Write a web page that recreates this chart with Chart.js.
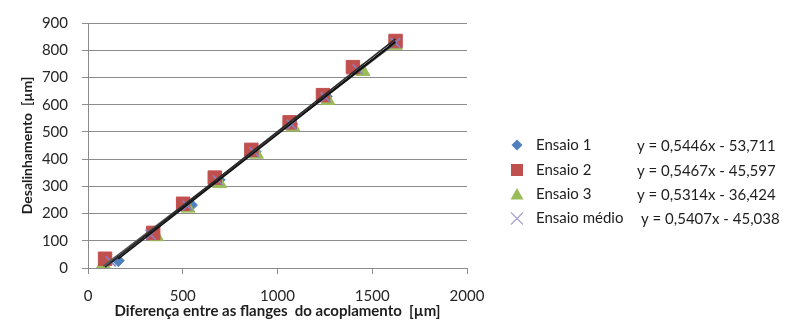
<!DOCTYPE html>
<html>
<head>
<meta charset="utf-8">
<script src="https://cdn.jsdelivr.net/npm/chart.js@4/dist/chart.umd.min.js"></script>
<style>
  html, body { margin: 0; padding: 0; background: #ffffff; }
  #c { display: block; }
</style>
</head>
<body>
<canvas id="c" width="795" height="326"></canvas>
<script>
// Measured points: flange difference (x) vs. misalignment (y), in µm
const seriesNames = ['Ensaio 1', 'Ensaio 2', 'Ensaio 3', 'Ensaio médio'];

const ensaio1X = [160, 340, 546, 692, 882, 1076, 1257, 1420, 1620];
const ensaio1Y = [27, 126, 231, 324, 427, 528, 630, 730, 829];

const ensaio2X = [90, 344, 502, 669, 862, 1064, 1240, 1398, 1623];
const ensaio2Y = [34, 129, 236, 332, 434, 535, 635, 738, 834];

const ensaio3X = [81, 362, 528, 695, 889, 1082, 1266, 1451, 1623];
const ensaio3Y = [14, 115, 220, 310, 418, 518, 615, 722, 818];

const medioX = [120, 330, 525, 685, 877, 1074, 1254, 1423, 1622];
const medioY = [24, 123, 229, 322, 426, 527, 627, 730, 827];

// Linear trendline coefficients (y = a·x + b) for each test
const slopes = [0.5446, 0.5467, 0.5314, 0.5407];
const intercepts = [-53.711, -45.597, -36.424, -45.038];

const xTicks = [0, 500, 1000, 1500, 2000];
const yTicks = [0, 100, 200, 300, 400, 500, 600, 700, 800, 900];

const xTitle = 'Diferença entre as flanges  do acoplamento  [µm]';
const yTitle = 'Desalinhamento  [µm]';

const colors = ['#4F81BD', '#C0504D', '#9BBB59', '#8B80C4'];
const styles = ['rectRot', 'rect', 'triangle', 'crossRot'];
const radii = [6, 9.5, 8, 7];

const xs = [ensaio1X, ensaio2X, ensaio3X, medioX];
const ys = [ensaio1Y, ensaio2Y, ensaio3Y, medioY];

const pts = (xa, ya) => xa.map((x, i) => ({ x: x, y: ya[i] }));

function eqText(i) {
  const a = slopes[i].toFixed(4).replace('.', ',');
  const b = Math.abs(intercepts[i]).toFixed(3).replace('.', ',');
  return 'y = ' + a + 'x ' + (intercepts[i] < 0 ? '- ' : '+ ') + b;
}

// stacking: trendlines on top, then médio, Ensaio 2, Ensaio 3, Ensaio 1
const drawOrder = [5, 3, 4, 2];

const datasets = seriesNames.map((name, i) => ({
  label: name,
  data: pts(xs[i], ys[i]),
  pointStyle: styles[i],
  pointRadius: radii[i],
  pointHoverRadius: radii[i],
  backgroundColor: colors[i],
  borderColor: colors[i],
  pointBorderWidth: i === 3 ? 1.6 : 1,
  showLine: false,
  order: drawOrder[i]
}));

// trendlines over each test's x range
seriesNames.forEach((name, i) => {
  const x0 = Math.min(...xs[i]);
  const x1 = Math.max(...xs[i]);
  datasets.push({
    label: 'tendência ' + name,
    type: 'line',
    data: [
      { x: x0, y: slopes[i] * x0 + intercepts[i] },
      { x: x1, y: slopes[i] * x1 + intercepts[i] }
    ],
    borderColor: ['#111111', '#2a2a2a', '#555555', '#000000'][i],
    borderWidth: 1.6,
    pointRadius: 0,
    fill: false,
    order: 0
  });
});

// legend with trendline equations at the right of the plot
const sideLegend = {
  id: 'sideLegend',
  afterDraw(chart) {
    const ctx = chart.ctx;
    const markX = 517;
    const labelX = 536;
    const eqX = [637, 637, 637, 641];
    const rowY = [145, 170, 194.5, 218.5];
    ctx.save();
    ctx.font = '15px Lato, "Open Sans", sans-serif';
    ctx.textBaseline = 'middle';
    ctx.fillStyle = '#1e1e1e';
    seriesNames.forEach((name, i) => {
      const y = rowY[i];
      ctx.save();
      ctx.fillStyle = colors[i];
      ctx.strokeStyle = colors[i];
      ctx.beginPath();
      if (i === 0) {
        ctx.moveTo(markX, y - 5.5); ctx.lineTo(markX + 5.5, y);
        ctx.lineTo(markX, y + 5.5); ctx.lineTo(markX - 5.5, y);
        ctx.closePath(); ctx.fill();
      } else if (i === 1) {
        ctx.rect(markX - 6, y - 6, 12, 12); ctx.fill();
      } else if (i === 2) {
        ctx.moveTo(markX, y - 6.5); ctx.lineTo(markX + 6.5, y + 5);
        ctx.lineTo(markX - 6.5, y + 5); ctx.closePath(); ctx.fill();
      } else {
        ctx.strokeStyle = '#A9A2CF';
        ctx.lineWidth = 1.2;
        ctx.moveTo(markX - 6, y - 6); ctx.lineTo(markX + 6, y + 6);
        ctx.moveTo(markX + 6, y - 6); ctx.lineTo(markX - 6, y + 6);
        ctx.stroke();
      }
      ctx.restore();
      ctx.fillText(name, labelX, y);
      ctx.fillText(eqText(i), eqX[i], y + 1);
    });
    ctx.restore();
  }
};

const gridGray = '#8c8c8c';

new Chart(document.getElementById('c'), {
  type: 'scatter',
  data: { datasets: datasets },
  options: {
    responsive: false,
    animation: false,
    layout: { padding: { left: 0, right: 328, top: 17, bottom: 0 } },
    plugins: {
      legend: { display: false },
      tooltip: { enabled: false }
    },
    scales: {
      x: {
        type: 'linear',
        min: 0,
        max: 2000,
        afterBuildTicks: s => { s.ticks = xTicks.map(v => ({ value: v })); },
        ticks: {
          color: '#262626',
          font: { family: 'Lato, "Open Sans", sans-serif', size: 15 },
          padding: 13,
          maxRotation: 0,
          callback: v => String(v)
        },
        grid: { drawOnChartArea: false, drawTicks: true, tickLength: 6, color: gridGray },
        border: { color: gridGray, width: 1 },
        title: {
          display: true,
          text: xTitle,
          color: '#1e1e1e',
          font: { family: 'Lato, "Open Sans", sans-serif', size: 15, weight: 'bold' },
          padding: { top: 0, bottom: 6 }
        },
        afterFit: s => { s.height = 58; }
      },
      y: {
        type: 'linear',
        min: 0,
        max: 900,
        afterBuildTicks: s => { s.ticks = yTicks.map(v => ({ value: v })); },
        ticks: {
          color: '#262626',
          font: { family: 'Lato, "Open Sans", sans-serif', size: 15 },
          padding: 14,
          callback: v => String(v)
        },
        grid: { drawOnChartArea: true, drawTicks: true, tickLength: 6, color: gridGray },
        border: { color: gridGray, width: 1 },
        title: {
          display: true,
          text: yTitle,
          color: '#1e1e1e',
          font: { family: 'Lato, "Open Sans", sans-serif', size: 14, weight: 'bold' },
          padding: { top: 19, bottom: 0 }
        },
        afterFit: s => { s.width = 88; }
      }
    }
  },
  plugins: [sideLegend]
});
</script>
</body>
</html>
